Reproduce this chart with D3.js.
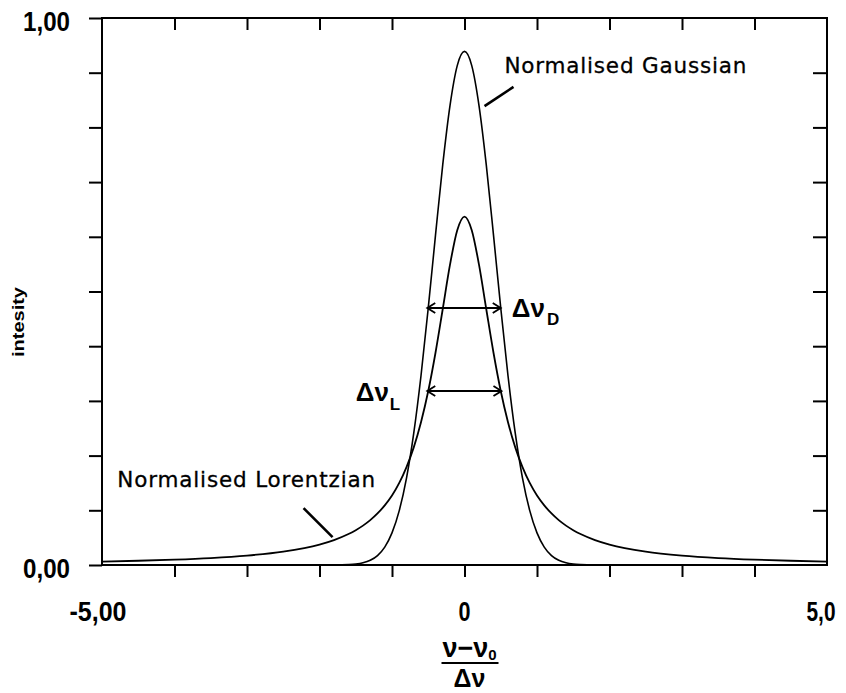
<!DOCTYPE html>
<html>
<head>
<meta charset="utf-8">
<script src="https://cdn.jsdelivr.net/npm/d3@7"></script>
<style>
  body { margin: 0; background: #fff; }
  svg { display: block; }
</style>
</head>
<body>
<div class="chart"></div>
<script>
const width = 846;
const height = 693;

// values
const detuning = [-5, -4.5, -4, -3.5, -3, -2.5, -2, -1.8, -1.6, -1.5, -1.4, -1.3, -1.2, -1.1, -1, -0.9, -0.8, -0.7, -0.6, -0.5, -0.4, -0.3, -0.2, -0.1, 0,
  0.1, 0.2, 0.3, 0.4, 0.5, 0.6, 0.7, 0.8, 0.9, 1, 1.1, 1.2, 1.3, 1.4, 1.5, 1.6, 1.8, 2, 2.5, 3, 3.5, 4, 4.5, 5];
const gaussian = [0, 0, 0, 0, 0, 0, 0, 0.0001, 0.0008, 0.0018, 0.0041, 0.0087, 0.0173, 0.0328, 0.0587, 0.0994, 0.159, 0.241, 0.346, 0.470, 0.603, 0.732, 0.840, 0.913, 0.939,
  0.913, 0.840, 0.732, 0.603, 0.470, 0.346, 0.241, 0.159, 0.0994, 0.0587, 0.0328, 0.0173, 0.0087, 0.0041, 0.0018, 0.0008, 0.0001, 0, 0, 0, 0, 0, 0, 0];
const lorentzian = [0.0063, 0.0078, 0.0098, 0.0127, 0.0172, 0.0245, 0.0374, 0.0456, 0.0566, 0.0637, 0.0720, 0.0820, 0.0942, 0.109, 0.127, 0.150, 0.179, 0.215, 0.261, 0.318, 0.388, 0.468, 0.549, 0.612, 0.637,
  0.612, 0.549, 0.468, 0.388, 0.318, 0.261, 0.215, 0.179, 0.150, 0.127, 0.109, 0.0942, 0.0820, 0.0720, 0.0637, 0.0566, 0.0456, 0.0374, 0.0245, 0.0172, 0.0127, 0.0098, 0.0078, 0.0063];

const xTicks = [-4, -3, -2, -1, 0, 1, 2, 3, 4];
const yTicks = [0, 0.1, 0.2, 0.3, 0.4, 0.5, 0.6, 0.7, 0.8, 0.9, 1];
const xLabelValues = [-5, 0, 5];
const xLabelTexts = ["-5,00", "0", "5,0"];
const yLabelValues = [0, 1];
const yLabelTexts = ["0,00", "1,00"];

const numFont = "'Liberation Sans Narrow', 'Liberation Sans', Arial, sans-serif";
const noteFont = "'DejaVu Sans', Verdana, sans-serif";

const svg = d3.select(".chart").append("svg")
  .attr("width", width)
  .attr("height", height);

const x = d3.scaleLinear().domain([-5, 5]).range([102, 827]);
const y = d3.scaleLinear().domain([0, 1]).range([565, 18]);

// arrow heads
const defs = svg.append("defs");
defs.append("marker")
  .attr("id", "head")
  .attr("viewBox", "-10 -6 12 12")
  .attr("refX", 0).attr("refY", 0)
  .attr("markerWidth", 12).attr("markerHeight", 12)
  .attr("markerUnits", "userSpaceOnUse")
  .attr("orient", "auto-start-reverse")
  .append("path")
  .attr("d", "M-8,-5 L0,0 L-8,5")
  .attr("fill", "none")
  .attr("stroke", "#000")
  .attr("stroke-width", 1.8);

// frame
svg.append("rect")
  .attr("x", x(-5)).attr("y", y(1))
  .attr("width", x(5) - x(-5)).attr("height", y(0) - y(1))
  .attr("fill", "none").attr("stroke", "#000").attr("stroke-width", 2);

function styleAxis(g) {
  g.select(".domain").remove();
  g.selectAll("line").attr("stroke", "#000").attr("stroke-width", 2);
  g.selectAll("text").remove();
}

svg.append("g").attr("transform", `translate(0,${y(0)})`)
  .call(d3.axisBottom(x).tickValues(xTicks).tickSize(12).tickFormat(""))
  .call(styleAxis);
svg.append("g").attr("transform", `translate(0,${y(1)})`)
  .call(d3.axisTop(x).tickValues(xTicks).tickSize(-12).tickFormat(""))
  .call(styleAxis);
svg.append("g").attr("transform", `translate(${x(-5)},0)`)
  .call(d3.axisLeft(y).tickValues(yTicks).tickSize(13).tickFormat(""))
  .call(styleAxis);
svg.append("g").attr("transform", `translate(${x(5)},0)`)
  .call(d3.axisRight(y).tickValues(yTicks.slice(1, -1)).tickSize(-14).tickFormat(""))
  .call(styleAxis);

// tick labels
const xLabelWidths = [57, 12, 29];
const xLabelShift = [-4, 0, -6];
svg.selectAll(".xlab").data(xLabelValues).enter().append("text")
  .attr("class", "xlab")
  .attr("x", (d, i) => x(d) + xLabelShift[i])
  .attr("y", 621)
  .attr("text-anchor", "middle")
  .attr("font-family", numFont).attr("font-weight", "bold").attr("font-size", 28)
  .attr("textLength", (d, i) => xLabelWidths[i])
  .attr("lengthAdjust", "spacingAndGlyphs")
  .text((d, i) => xLabelTexts[i]);

svg.selectAll(".ylab").data(yLabelValues).enter().append("text")
  .attr("class", "ylab")
  .attr("x", 70)
  .attr("y", d => y(d) + 13)
  .attr("text-anchor", "end")
  .attr("font-family", numFont).attr("font-weight", "bold").attr("font-size", 28)
  .attr("textLength", 47)
  .attr("lengthAdjust", "spacingAndGlyphs")
  .text((d, i) => yLabelTexts[i]);

// y title
svg.append("text")
  .attr("transform", "translate(24,322) rotate(-90)")
  .attr("text-anchor", "middle")
  .attr("font-family", "'Liberation Sans', Arial, sans-serif")
  .attr("font-weight", "bold").attr("font-size", 17)
  .attr("textLength", 70)
  .attr("lengthAdjust", "spacingAndGlyphs")
  .text("intesity");

// x title as a fraction
const fx = x(0) + 5;
const num = svg.append("text")
  .attr("x", fx).attr("y", 657)
  .attr("text-anchor", "middle")
  .attr("font-family", numFont).attr("font-weight", "bold").attr("font-size", 27);
num.append("tspan").text("ν−ν");
num.append("tspan").attr("font-size", 15).attr("dy", 3).text("0");
svg.append("line")
  .attr("x1", fx - 28).attr("x2", fx + 29)
  .attr("y1", 663).attr("y2", 663)
  .attr("stroke", "#000").attr("stroke-width", 2);
svg.append("text")
  .attr("x", fx).attr("y", 687)
  .attr("text-anchor", "middle")
  .attr("font-family", numFont).attr("font-weight", "bold").attr("font-size", 25)
  .text("Δν");

// curves
const line = d3.line()
  .x(d => x(d[0]))
  .y(d => y(d[1]))
  .curve(d3.curveMonotoneX);

svg.append("path")
  .datum(d3.zip(detuning, lorentzian))
  .attr("d", line)
  .attr("fill", "none").attr("stroke", "#000").attr("stroke-width", 1.8);

svg.append("path")
  .datum(d3.zip(detuning, gaussian))
  .attr("d", line)
  .attr("fill", "none").attr("stroke", "#000").attr("stroke-width", 1.6);

// width arrows
const widths = [
  { half: 0.47, lo: -0.5, hi: 0.5 },
  { half: 0.318, lo: -0.5, hi: 0.51 }
];
svg.selectAll(".fwhm").data(widths).enter().append("line")
  .attr("class", "fwhm")
  .attr("x1", d => x(d.lo) - 1).attr("x2", d => x(d.hi))
  .attr("y1", d => y(d.half)).attr("y2", d => y(d.half))
  .attr("stroke", "#000").attr("stroke-width", 2)
  .attr("marker-start", "url(#head)")
  .attr("marker-end", "url(#head)");

const dLab = svg.append("text")
  .attr("x", x(0.5) + 11).attr("y", y(0.47) + 9)
  .attr("font-family", numFont).attr("font-weight", "bold").attr("font-size", 26);
dLab.append("tspan").text("Δν");
dLab.append("tspan").attr("font-size", 17).attr("dx", 2).attr("dy", 8).text("D");

const lLab = svg.append("text")
  .attr("x", x(-0.5) - 28).attr("y", y(0.318) + 10)
  .attr("text-anchor", "end")
  .attr("font-family", numFont).attr("font-weight", "bold").attr("font-size", 26);
lLab.append("tspan").text("Δν");
lLab.append("tspan").attr("font-size", 17).attr("dx", 1).attr("dy", 9).text("L");

// annotations
svg.append("text")
  .attr("x", x(0.55)).attr("y", y(0.90))
  .attr("font-family", noteFont).attr("font-size", 21.5)
  .attr("stroke", "#000").attr("stroke-width", 0.3)
  .attr("textLength", 242)
  .text("Normalised Gaussian");
svg.append("text")
  .attr("x", x(-4.79)).attr("y", y(0.143))
  .attr("font-family", noteFont).attr("font-size", 21.5)
  .attr("stroke", "#000").attr("stroke-width", 0.3)
  .attr("textLength", 258)
  .text("Normalised Lorentzian");

const leaders = [
  [[0.276, 0.839], [0.676, 0.874]],
  [[-2.22, 0.104], [-1.82, 0.051]]
];
svg.selectAll(".leader").data(leaders).enter().append("line")
  .attr("class", "leader")
  .attr("x1", d => x(d[0][0])).attr("y1", d => y(d[0][1]))
  .attr("x2", d => x(d[1][0])).attr("y2", d => y(d[1][1]))
  .attr("stroke", "#000").attr("stroke-width", 2.6);
</script>
</body>
</html>
